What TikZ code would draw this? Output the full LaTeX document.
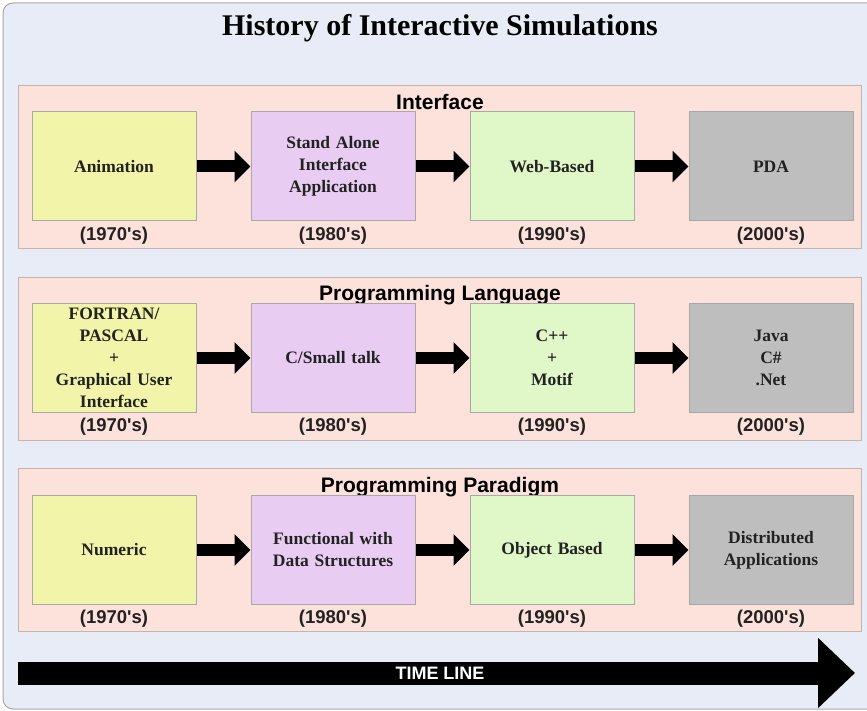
\documentclass[tikz,border=0pt]{standalone}
\usepackage{fontspec}
\setmainfont{Liberation Serif}
\newfontfamily\arialfont{Liberation Sans}
\usetikzlibrary{arrows.meta}
\definecolor{bgblue}{HTML}{E7ECF6}
\definecolor{bgborder}{HTML}{A8A8A8}
\definecolor{panelpink}{HTML}{FDE1DB}
\definecolor{panelborder}{HTML}{C4B4B0}
\definecolor{boxborder}{HTML}{A8A8A8}
\definecolor{cyellow}{HTML}{F2F5A9}
\definecolor{cpurple}{HTML}{E8CCF2}
\definecolor{cgreen}{HTML}{E0F7C8}
\definecolor{cgray}{HTML}{BEBEBE}
\definecolor{txt}{HTML}{222222}
\tikzset{
  panel/.style={draw=panelborder, fill=panelpink, line width=1pt, minimum width=843pt, minimum height=163pt, inner sep=0pt, anchor=north west},
  era/.style={draw=boxborder, line width=1pt, minimum width=164pt, minimum height=109pt, inner sep=2pt, align=center, text width=160pt, font=\fontsize{17.5}{22}\selectfont\bfseries, text=txt},
  yearlbl/.style={font=\arialfont\fontsize{18.5}{21}\selectfont\bfseries, text=txt, inner sep=0pt},
  paneltitle/.style={font=\arialfont\fontsize{21}{25}\selectfont\bfseries, text=black, inner sep=0pt},
  blockarrow/.style={line width=12pt, -{Triangle[width=31pt,length=16pt]}},
}
\begin{document}
\begin{tikzpicture}[x=1pt,y=-1pt]
\useasboundingbox (0,0) rectangle (867,711);
\draw[fill=bgblue, draw=bgborder, line width=1pt, rounded corners=10pt] (3,3) rectangle (880,709);
\node[font=\fontsize{30}{34}\selectfont\bfseries, text=black] (title) at (440,28) {History of Interactive Simulations};

% panels
\node[panel] (p1) at (18,85) {};
\node[panel] (p2) at (18,277) {};
\node[panel] (p3) at (18,468) {};
\node[paneltitle] (t1) at (440,102) {Interface};
\node[paneltitle] (t2) at (440,295) {Programming Language};
\node[paneltitle] (t3) at (440,487) {Programming Paradigm};

% row 1
\node[era, fill=cyellow] (a1) at (114,166.5) {Animation};
\node[era, fill=cpurple] (a2) at (333,166.5) {Stand Alone\\Interface\\Application};
\node[era, fill=cgreen] (a3) at (552,166.5) {Web-Based};
\node[era, fill=cgray] (a4) at (771,166.5) {PDA};
\node[yearlbl] (y11) at (114,236) {(1970's)};
\node[yearlbl] (y12) at (333,236) {(1980's)};
\node[yearlbl] (y13) at (552,236) {(1990's)};
\node[yearlbl] (y14) at (771,236) {(2000's)};
\draw[blockarrow] (a1.east) -- (a2.west);
\draw[blockarrow] (a2.east) -- (a3.west);
\draw[blockarrow] (a3.east) -- (a4.west);

% row 2
\node[era, fill=cyellow] (b1) at (114,358) {FORTRAN/\\PASCAL\\+\\Graphical User\\Interface};
\node[era, fill=cpurple] (b2) at (333,358) {C/Small talk};
\node[era, fill=cgreen] (b3) at (552,358) {C++\\+\\Motif};
\node[era, fill=cgray] (b4) at (771,358) {Java\\C\#\\.Net};
\node[yearlbl] (y21) at (114,427) {(1970's)};
\node[yearlbl] (y22) at (333,427) {(1980's)};
\node[yearlbl] (y23) at (552,427) {(1990's)};
\node[yearlbl] (y24) at (771,427) {(2000's)};
\draw[blockarrow] (b1.east) -- (b2.west);
\draw[blockarrow] (b2.east) -- (b3.west);
\draw[blockarrow] (b3.east) -- (b4.west);

% row 3
\node[era, fill=cyellow] (c1) at (114,550) {Numeric};
\node[era, fill=cpurple] (c2) at (333,550) {Functional with\\Data Structures};
\node[era, fill=cgreen] (c3) at (552,550) {Object Based};
\node[era, fill=cgray] (c4) at (771,550) {Distributed\\Applications};
\node[yearlbl] (y31) at (114,619) {(1970's)};
\node[yearlbl] (y32) at (333,619) {(1980's)};
\node[yearlbl] (y33) at (552,619) {(1990's)};
\node[yearlbl] (y34) at (771,619) {(2000's)};
\draw[blockarrow] (c1.east) -- (c2.west);
\draw[blockarrow] (c2.east) -- (c3.west);
\draw[blockarrow] (c3.east) -- (c4.west);

% timeline
\coordinate (tlstart) at (18,673);
\coordinate (tlend) at (855,673);
\draw[line width=23pt, -{Triangle[width=68pt,length=37pt]}] (tlstart) -- (tlend);
\node[font=\arialfont\fontsize{18}{21}\selectfont\bfseries, text=white, inner sep=0pt] (tl) at (440,673) {TIME LINE};
\end{tikzpicture}
\end{document}
